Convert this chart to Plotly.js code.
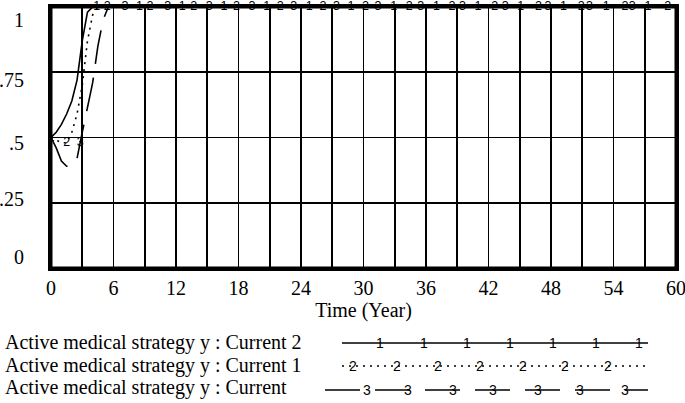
<!DOCTYPE html>
<html><head><meta charset="utf-8">
<script src="https://cdn.plot.ly/plotly-3.0.1.min.js"></script>
<style>html,body{margin:0;padding:0;background:#fff;overflow:hidden}</style>
</head><body><div id="chart" style="width:685px;height:403px"></div>
<script>
// ---------- data ----------
const time = [0,0.5,1,1.5,2,2.5,3,3.5,4,4.5,5,5.5,6,12,18,24,30,36,42,48,54,60];
const current2 = [0.5,0.52,0.55,0.59,0.64,0.72,0.87,0.98,1,1,1,1,1,1,1,1,1,1,1,1,1,1];
const current1 = [0.5,0.49,0.48,0.48,0.52,0.59,0.70,0.87,0.97,1,1,1,1,1,1,1,1,1,1,1,1,1];
const current  = [0.5,0.46,0.41,0.39,0.39,0.42,0.52,0.61,0.71,0.85,0.95,1,1,1,1,1,1,1,1,1,1,1];
const seriesNames = ["Active medical strategy y : Current 2","Active medical strategy y : Current 1","Active medical strategy y : Current"];
const markerLabels = ["1","2","3"];
const markerTimes1 = [0,4.4,8.5,12.6,16.6,20.7,24.8,28.8,32.9,37.0,41.0,45.1,49.2,53.3,57.3];
const markerTimes2 = [1.5,5.4,9.5,13.7,17.8,22.0,26.1,30.2,34.4,38.5,42.6,46.8,50.9,55.1,59.2];
const markerTimes3 = [2.8,7.1,11.2,15.2,19.3,23.3,27.4,31.4,35.5,39.5,43.6,47.7,51.7,55.8];
const xTicks = [0,6,12,18,24,30,36,42,48,54,60];
const yTicks = [0,0.25,0.5,0.75,1];
const yTickText = ["0",".25",".5",".75","1"];
const xTitle = "Time (Year)";

// ---------- drawing ----------
const W = 685, H = 403, L = 51, R = 9, T = 7, B = 135;
const PW = W - L - R, PH = H - T - B;
const px = x => (x - L) / PW;            // pixel -> paper x
const py = y => (H - B - y) / PH;        // pixel -> paper y
const serif = "Liberation Serif, Times New Roman, serif";
const sans = "Liberation Sans, Arial, sans-serif";

function valueAt(ts, vs, t) {
  for (let i = 0; i < ts.length - 1; i++) {
    if (t >= ts[i] && t <= ts[i+1]) {
      const f = (t - ts[i]) / (ts[i+1] - ts[i]);
      return vs[i] + f * (vs[i+1] - vs[i]);
    }
  }
  return vs[vs.length - 1];
}

const series = [current2, current1, current];
const markerTimes = [markerTimes1, markerTimes2, markerTimes3];
const dashes = ["solid", "2px,5px", "34px,14px"];

const traces = [];
series.forEach((s, i) => {
  traces.push({x: time, y: s, type: "scatter", mode: "lines", name: seriesNames[i],
    line: {color: "#000", width: 1.6, dash: dashes[i]}, showlegend: false, hoverinfo: "skip"});
});
series.forEach((s, i) => {
  traces.push({x: markerTimes[i], y: markerTimes[i].map(t => valueAt(time, s, t)),
    type: "scatter", mode: "text", text: markerTimes[i].map(() => markerLabels[i]),
    textposition: "middle center", textfont: {family: sans, size: 12.5, color: "#000"},
    cliponaxis: false, showlegend: false, hoverinfo: "skip"});
});

const annotations = [];
const yShift = [11, 4, -5, -8, -13];
yTicks.forEach((v, i) => {
  annotations.push({xref: "paper", yref: "y", x: 0, y: v, xshift: -25, yshift: yShift[i],
    xanchor: "right", yanchor: "middle", text: yTickText[i], showarrow: false,
    font: {family: serif, size: 20, color: "#000"}});
});

// legend (Vensim style, below the plot)
const rowY = [343, 366, 390];
const textY = [342, 365, 388];
const legMarkX = [
  [380,424,467,510,553,596,639],
  [353,397,438,480,523,565,608],
  [367,408,453,493,538,580,625]
];
const legLine = [[342,648],[342,645],[325,648]];
const shapes = [
  // plot frame
  {type: "rect", xref: "paper", yref: "paper", x0: 0, x1: 1, y0: 0, y1: 1,
   line: {color: "#000", width: 3}, fillcolor: "rgba(0,0,0,0)", layer: "above"}
];
seriesNames.forEach((n, i) => {
  annotations.push({xref: "paper", yref: "paper", x: px(3), y: py(textY[i]),
    xanchor: "left", yanchor: "middle", text: n, showarrow: false,
    font: {family: serif, size: 20, color: "#000"}});
  shapes.push({type: "line", xref: "paper", yref: "paper",
    x0: px(legLine[i][0]), x1: px(legLine[i][1]), y0: py(rowY[i]), y1: py(rowY[i]),
    line: {color: "#000", width: 1.6, dash: i === 2 ? "35px,15px" : dashes[i]}});
  legMarkX[i].forEach(mx => annotations.push({xref: "paper", yref: "paper",
    x: px(mx), y: py(rowY[i]), xanchor: "center", yanchor: "middle", text: markerLabels[i],
    showarrow: false, font: {family: sans, size: 14, color: "#000"}}));
});

const layout = {
  width: W, height: H,
  margin: {l: L, r: R, t: T, b: B},
  paper_bgcolor: "#fff", plot_bgcolor: "#fff",
  showlegend: false,
  xaxis: {range: [0, 60], tickmode: "array", tickvals: xTicks, ticktext: xTicks.map(String),
    ticklabeloverflow: "allow",
    showgrid: true, gridcolor: "#000", gridwidth: 1.7,
    minor: {tickmode: "linear", tick0: 0, dtick: 3, showgrid: true, gridcolor: "#000", gridwidth: 1.7},
    showline: true, mirror: true, linecolor: "#000", linewidth: 3, zeroline: false, ticks: "",
    tickfont: {family: serif, size: 20, color: "#000"},
    title: {text: xTitle, font: {family: serif, size: 20, color: "#000"}, standoff: 4},
    automargin: false, fixedrange: true},
  yaxis: {range: [0, 1], tickmode: "array", tickvals: yTicks, showticklabels: false,
    showgrid: true, gridcolor: "#000", gridwidth: 1.7,
    showline: true, mirror: true, linecolor: "#000", linewidth: 3, zeroline: false, ticks: "",
    automargin: false, fixedrange: true},
  annotations: annotations,
  shapes: shapes
};

Plotly.newPlot("chart", traces, layout, {displayModeBar: false, staticPlot: true});
</script></body></html>
